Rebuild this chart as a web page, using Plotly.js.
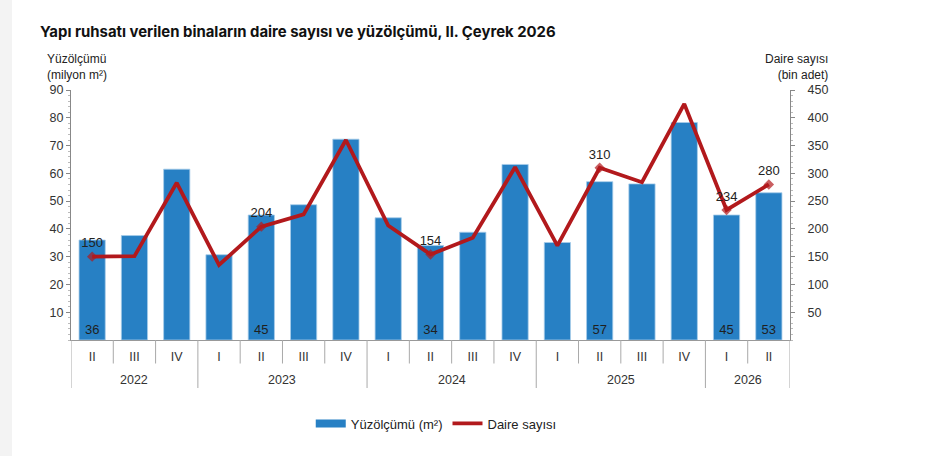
<!DOCTYPE html>
<html>
<head>
<meta charset="utf-8">
<script src="https://cdn.plot.ly/plotly-3.0.1.min.js"></script>
<style>
  html, body { margin: 0; padding: 0; background: #fff; }
  #strip { position: absolute; left: 0; top: 0; width: 12px; height: 456px; background: #f3f3f3; }
  #chart { position: absolute; left: 0; top: 0; width: 940px; height: 456px; }
</style>
</head>
<body>
<div id="strip"></div>
<div id="chart"></div>
<script>
/* ─── Building permits: floor area vs dwelling count ─── */

const years    = ['2022', '2022', '2022', '2023', '2023', '2023', '2023', '2024', '2024', '2024', '2024',
                  '2025', '2025', '2025', '2025', '2026', '2026'];
const quarters = ['II', 'III', 'IV', 'I', 'II', 'III', 'IV', 'I', 'II', 'III', 'IV',
                  'I', 'II', 'III', 'IV', 'I', 'II'];
const floorArea = [36, 37.6, 61.5, 30.7, 45, 48.7, 72.3, 44, 34, 38.8, 63.2,
                   35.1, 57, 56.2, 78.3, 45, 53];
const dwellings = [150, 151, 283, 135, 204, 226, 360, 206, 154, 184, 311,
                   170, 310, 284, 425, 234, 280];
const areaLabels  = ['36', '', '', '', '45', '', '', '', '34', '', '', '', '57', '', '', '45', '53'];
const dwellLabels = ['150', '', '', '', '204', '', '', '', '154', '', '', '', '310', '', '', '234', '280'];

const BLUE = '#2780C4';
const RED = '#B2191C';
const AXIS_FONT = { family: 'Liberation Sans, Arial, sans-serif', size: 12.5, color: '#333' };

// unique category ids, one per quarter
const cats = years.map((y, i) => y + ' ' + quarters[i]);

const barTrace = {
    x: cats,
    y: floorArea,
    type: 'bar',
    name: 'Yüzölçümü (m²)',
    showlegend: false,
    marker: { color: BLUE, line: { color: '#a8cdea', width: 0.8 } },
    text: areaLabels,
    textposition: 'inside',
    insidetextanchor: 'start',
    textangle: 0,
    textfont: { family: AXIS_FONT.family, size: 13, color: '#1f1f1f' },
};

// legend-only entry so the bar swatch is a wide strip like the original
const barLegend = {
    x: [null], y: [null],
    type: 'scatter',
    mode: 'lines',
    name: 'Yüzölçümü (m²)',
    line: { color: BLUE, width: 8 },
};

const lineTrace = {
    x: cats,
    y: dwellings,
    yaxis: 'y2',
    type: 'scatter',
    mode: 'lines',
    name: 'Daire sayısı',
    line: { color: RED, width: 3.8 },
};

const lineLabels = {
    x: cats,
    y: dwellings,
    yaxis: 'y2',
    type: 'scatter',
    mode: 'markers+text',
    showlegend: false,
    marker: {
        symbol: 'diamond',
        color: RED,
        line: { width: 0 },
        size: dwellLabels.map(t => (t ? 8 : 0)),
    },
    text: dwellLabels,
    textposition: 'top center',
    textfont: { family: AXIS_FONT.family, size: 13, color: '#222' },
    cliponaxis: false,
};

// quarter separators and year dividers below the axis
const shapes = [];
for (let i = 0; i <= cats.length; i++) {
    const yearEdge = i === 0 || i === cats.length || years[i] !== years[i - 1];
    shapes.push({
        type: 'line', xref: 'x', yref: 'paper',
        x0: i - 0.5, x1: i - 0.5,
        y0: 0, y1: yearEdge ? -0.192 : -0.094,
        line: { color: '#a9a9a9', width: 1 },
    });
}

// year labels centred under their quarters
const yearNames = [...new Set(years)];
const yearAnnotations = yearNames.map(yr => {
    const idx = years.map((y, i) => (y === yr ? i : -1)).filter(i => i >= 0);
    return {
        text: yr,
        xref: 'x', yref: 'paper',
        x: (idx[0] + idx[idx.length - 1]) / 2,
        y: -0.16, yanchor: 'middle',
        showarrow: false,
        font: AXIS_FONT,
    };
});

const layout = {
    width: 940,
    height: 456,
    paper_bgcolor: 'rgba(0,0,0,0)',
    plot_bgcolor: 'rgba(0,0,0,0)',
    margin: { t: 90, r: 150, b: 116, l: 71 },
    font: AXIS_FONT,
    bargap: 0.38,
    showlegend: true,
    legend: {
        orientation: 'h',
        x: 0.508, xanchor: 'center',
        y: -0.274, yanchor: 'top',
        font: { family: AXIS_FONT.family, size: 13, color: '#222' },
        traceorder: 'normal',
    },
    xaxis: {
        type: 'category',
        range: [-0.5, cats.length - 0.5],
        tickvals: cats,
        ticktext: quarters,
        ticks: '',
        ticklabelstandoff: 5,
        showline: true,
        linecolor: '#999',
        linewidth: 1,
        tickfont: AXIS_FONT,
        showgrid: false,
        zeroline: false,
    },
    yaxis: {
        range: [0, 90],
        tickvals: [10, 20, 30, 40, 50, 60, 70, 80, 90],
        ticks: 'outside',
        ticklen: 4,
        tickcolor: '#888',
        showline: true,
        linecolor: '#888',
        showgrid: false,
        zeroline: false,
        minor: { ticks: 'outside', ticklen: 2, dtick: 2, tickcolor: '#bbb' },
        tickfont: AXIS_FONT,
    },
    yaxis2: {
        overlaying: 'y',
        side: 'right',
        range: [0, 450],
        tickvals: [50, 100, 150, 200, 250, 300, 350, 400, 450],
        ticks: 'outside',
        ticklen: 4,
        tickcolor: '#888',
        showline: true,
        linecolor: '#888',
        showgrid: false,
        zeroline: false,
        minor: { ticks: 'outside', ticklen: 2, dtick: 10, tickcolor: '#bbb' },
        tickfont: AXIS_FONT,
        ticklabelstandoff: 10,
    },
    title: {
        text: '<b>Yapı ruhsatı verilen binaların daire sayısı ve yüzölçümü, II. Çeyrek 2026</b>',
        x: 40 / 940, xref: 'container', xanchor: 'left',
        y: 1 - 32 / 456, yref: 'container', yanchor: 'middle',
        font: { family: 'Inter, Open Sans, sans-serif', size: 14.9, color: '#111' },
    },
    shapes: shapes,
    annotations: [
        {
            text: 'Yüzölçümü<br>(milyon m²)',
            xref: 'paper', yref: 'paper',
            x: -0.036, y: 1.025, xanchor: 'left', yanchor: 'bottom',
            align: 'left', showarrow: false,
            font: { family: AXIS_FONT.family, size: 12, color: '#222' },
        },
        {
            text: 'Daire sayısı<br>(bin adet)',
            xref: 'paper', yref: 'paper',
            x: 1.055, y: 1.025, xanchor: 'right', yanchor: 'bottom',
            align: 'right', showarrow: false,
            font: { family: AXIS_FONT.family, size: 12, color: '#222' },
        },
        ...yearAnnotations,
    ],
};

Plotly.newPlot('chart', [barTrace, barLegend, lineTrace, lineLabels], layout,
    { displayModeBar: false, staticPlot: true });
</script>
</body>
</html>
